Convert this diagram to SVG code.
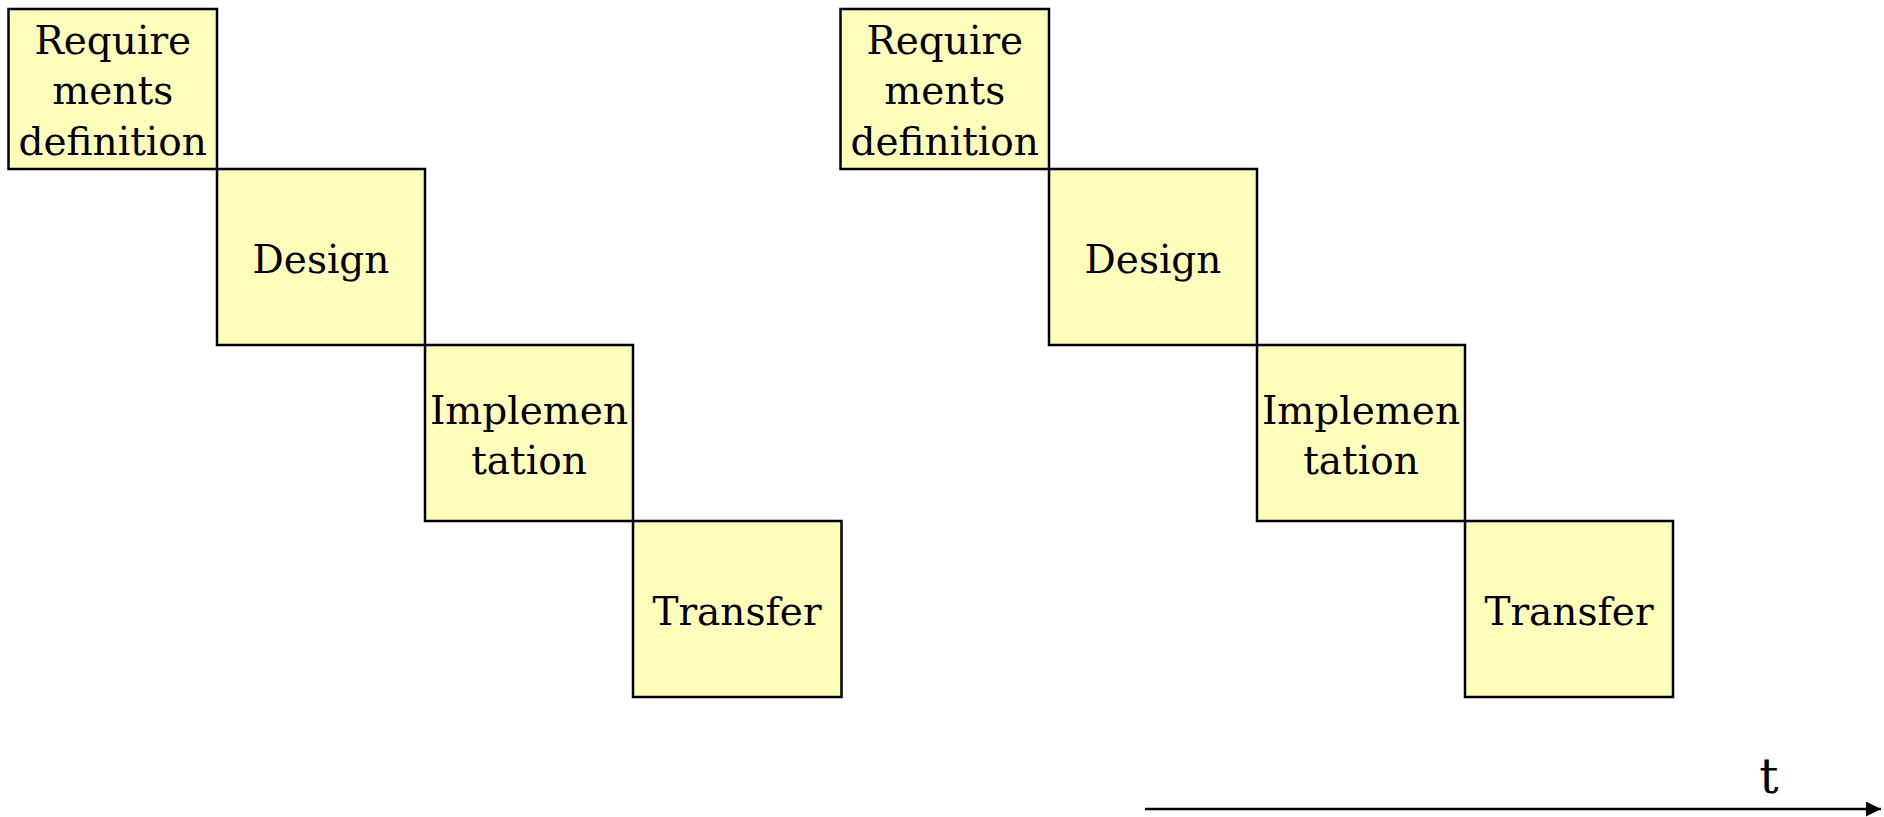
<svg xmlns="http://www.w3.org/2000/svg" width="1884" height="817" viewBox="0 0 1884 817">
  <style>
    .box { fill: #FFFFBB; stroke: #000; stroke-width: 2.5; }
    .lbl { font-family: "DejaVu Serif", "Liberation Serif", serif; font-size: 39px; fill: #000; text-anchor: middle; }
    .tlbl { font-size: 48px; }
    .axis { stroke: #000; stroke-width: 2.5; fill: none; }
  </style>
  <defs>
    <marker id="head" viewBox="0 0 10 10" refX="10" refY="5" markerWidth="6" markerHeight="6" markerUnits="strokeWidth" orient="auto">
      <path d="M0,0 L10,5 L0,10 Z" fill="#000"/>
    </marker>
  </defs>

  <!-- first staircase -->
  <g id="req-a">
    <rect class="box" x="8.5" y="9" width="208.5" height="160"/>
    <text class="lbl" x="112.75" y="54">Require</text>
    <text class="lbl" x="112.75" y="104">ments</text>
    <text class="lbl" x="112.75" y="155">definition</text>
  </g>
  <g id="design-a">
    <rect class="box" x="217" y="169" width="208" height="176"/>
    <text class="lbl" x="321" y="273">Design</text>
  </g>
  <g id="impl-a">
    <rect class="box" x="425" y="345" width="208" height="176"/>
    <text class="lbl" x="529" y="424">Implemen</text>
    <text class="lbl" x="529" y="474">tation</text>
  </g>
  <g id="transfer-a">
    <rect class="box" x="633" y="521" width="208.5" height="176"/>
    <text class="lbl" x="737" y="625">Transfer</text>
  </g>

  <!-- second staircase -->
  <g id="req-b">
    <rect class="box" x="840.5" y="9" width="208.5" height="160"/>
    <text class="lbl" x="944.75" y="54">Require</text>
    <text class="lbl" x="944.75" y="104">ments</text>
    <text class="lbl" x="944.75" y="155">definition</text>
  </g>
  <g id="design-b">
    <rect class="box" x="1049" y="169" width="208" height="176"/>
    <text class="lbl" x="1153" y="273">Design</text>
  </g>
  <g id="impl-b">
    <rect class="box" x="1257" y="345" width="208" height="176"/>
    <text class="lbl" x="1361" y="424">Implemen</text>
    <text class="lbl" x="1361" y="474">tation</text>
  </g>
  <g id="transfer-b">
    <rect class="box" x="1465" y="521" width="208" height="176"/>
    <text class="lbl" x="1569" y="625">Transfer</text>
  </g>

  <!-- time axis -->
  <g id="connectors">
    <line class="axis" x1="1145" y1="809" x2="1881" y2="809" marker-end="url(#head)"/>
  </g>
  <g id="time-label">
    <text class="lbl tlbl" x="1769" y="793">t</text>
  </g>
</svg>
